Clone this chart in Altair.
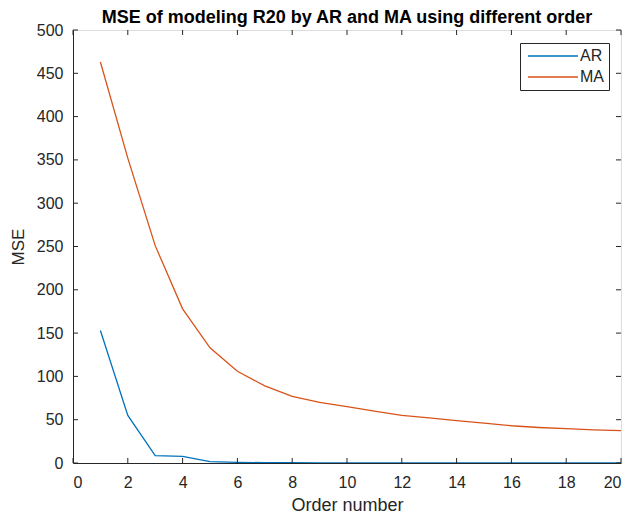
import altair as alt
import pandas as pd

order = list(range(1, 21))
ar_mse = [153, 55, 8.5, 7.7, 1.5, 0.8, 0.4, 0.3, 0.2, 0.15, 0.1, 0.1, 0.08, 0.07, 0.06, 0.05, 0.05, 0.04, 0.04, 0.03]
ma_mse = [463, 352, 251, 178, 133, 106, 89, 77, 70, 65, 60, 55, 52, 49, 46, 43, 41, 39.6, 38.3, 37.3]
x_ticks = list(range(0, 21, 2))
y_ticks = list(range(0, 501, 50))

W, H = 548, 433
AXC = "#262626"
FONT = "Liberation Sans"

df = pd.DataFrame({
    "Order": order * 2,
    "MSE": ar_mse + ma_mse,
    "Series": ["AR"] * len(order) + ["MA"] * len(order),
})
xt = pd.DataFrame({"t": x_ticks})
yt = pd.DataFrame({"t": y_ticks})

xscale = alt.Scale(domain=[0, 20], nice=False, zero=False)
yscale = alt.Scale(domain=[0, 500], nice=False)

lines = alt.Chart(df).mark_line(strokeWidth=1.3, clip=True).encode(
    x=alt.X("Order:Q", scale=xscale, title="Order number",
            axis=alt.Axis(values=x_ticks, ticks=False, grid=False, domainColor=AXC,
                          labelColor=AXC, labelFontSize=16, labelPadding=11,
                          titleFontSize=18, titleColor=AXC, titleFontWeight="normal",
                          titlePadding=6, labelFont=FONT, titleFont=FONT)),
    y=alt.Y("MSE:Q", scale=yscale, title="MSE",
            axis=alt.Axis(values=y_ticks, ticks=False, grid=False, domainColor=AXC,
                          labelColor=AXC, labelFontSize=16, labelPadding=10,
                          titleFontSize=17, titleColor=AXC, titleFontWeight="normal",
                          titlePadding=9, labelFont=FONT, titleFont=FONT)),
    color=alt.Color("Series:N",
                    scale=alt.Scale(domain=["AR", "MA"], range=["#0072BD", "#D95319"]),
                    legend=alt.Legend(title=None, orient="none", legendX=447, legendY=13,
                                      strokeColor=AXC, fillColor="white", padding=5,
                                      symbolType="M-1,0H9", symbolSize=100, symbolStrokeWidth=1.5,
                                      labelFontSize=16, labelColor=AXC, labelFont=FONT,
                                      rowPadding=5, labelOffset=39)),
)

tick_bottom = alt.Chart(xt).mark_rule(color=AXC, strokeWidth=1).encode(
    x=alt.X("t:Q", scale=xscale), y=alt.value(H), y2=alt.value(H - 5))
tick_top = alt.Chart(xt).mark_rule(color=AXC, strokeWidth=1).encode(
    x=alt.X("t:Q", scale=xscale), y=alt.value(0), y2=alt.value(5))
tick_left = alt.Chart(yt).mark_rule(color=AXC, strokeWidth=1).encode(
    y=alt.Y("t:Q", scale=yscale), x=alt.value(0), x2=alt.value(5))
tick_right = alt.Chart(yt).mark_rule(color=AXC, strokeWidth=1).encode(
    y=alt.Y("t:Q", scale=yscale), x=alt.value(W), x2=alt.value(W - 5))

chart = alt.layer(lines, tick_bottom, tick_top, tick_left, tick_right).properties(
    width=W, height=H,
    title=alt.TitleParams("MSE of modeling R20 by AR and MA using different order",
                          fontSize=18, fontWeight="bold", color="black",
                          font=FONT, offset=0, dy=19, anchor="middle", baseline="alphabetic"),
    autosize=alt.AutoSizeParams(type="none"),
    padding={"left": 73, "top": 30, "right": 6, "bottom": 52},
).configure_view(stroke=AXC, strokeWidth=1).configure(background="white")

chart.save("out.html", embed_options={"renderer": "svg", "actions": False})
